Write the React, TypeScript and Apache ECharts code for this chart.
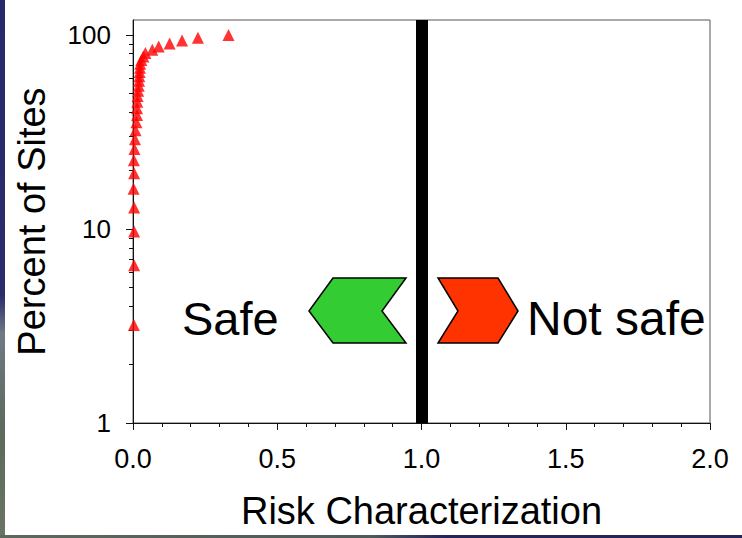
import React, { useEffect, useRef } from "react";
import * as echarts from "echarts";

// Risk characterization value for each site (sorted)
const riskValues = [
  0.003, 0.004, 0.004, 0.004, 0.002, 0.004, 0.003, 0.005, 0.007, 0.009,
  0.012, 0.014, 0.014, 0.015, 0.016, 0.018, 0.02, 0.021, 0.022, 0.023,
  0.024, 0.025, 0.029, 0.036, 0.043, 0.067, 0.089, 0.127, 0.17, 0.225, 0.331,
];
// Cumulative percent of sites
const percentOfSites = [
  3.2, 6.5, 9.7, 12.9, 16.1, 19.4, 22.6, 25.8, 29.0, 32.3,
  35.5, 38.7, 41.9, 45.2, 48.4, 51.6, 54.8, 58.1, 61.3, 64.5,
  67.7, 71.0, 74.2, 77.4, 80.6, 83.9, 87.1, 90.3, 93.5, 96.8, 100,
];
const yMajorTicks = [1, 10, 100];
const yMinorTicks = [2, 3, 4, 5, 6, 7, 8, 9, 20, 30, 40, 50, 60, 70, 80, 90];
const thresholdValue = 1.0;
const xMin = 0;
const xMax = 2;
const xInterval = 0.5;
const yMin = 1;
const yMax = 119.4;

const FONT = "'Liberation Sans', Arial, sans-serif";

export default function App() {
  const ref = useRef<HTMLDivElement>(null);
  useEffect(() => {
    if (!ref.current) return;
    const chart = echarts.init(ref.current, undefined, { renderer: "svg" });
    const points = riskValues.map((x, i) => [x, percentOfSites[i]]);
    chart.setOption({
      animation: false,
      backgroundColor: "#ffffff",
      textStyle: { fontFamily: FONT },
      grid: {
        left: 133,
        right: 32,
        top: 20,
        bottom: 115,
        show: true,
        borderColor: "#555",
        borderWidth: 1,
        backgroundColor: "transparent",
      },
      xAxis: {
        type: "value",
        min: xMin,
        max: xMax,
        interval: xInterval,
        name: "Risk Characterization",
        nameLocation: "middle",
        nameGap: 69,
        nameTextStyle: { fontSize: 38, color: "#000", fontFamily: FONT },
        axisLine: { show: true, lineStyle: { color: "#111", width: 1 } },
        axisTick: { show: true, length: 7, lineStyle: { color: "#111" } },
        minorTick: { show: true, splitNumber: 5, length: 4, lineStyle: { color: "#111" } },
        axisLabel: {
          fontSize: 27,
          color: "#000",
          margin: 22,
          fontFamily: FONT,
          formatter: (v: number) => v.toFixed(1),
        },
        splitLine: { show: false },
        minorSplitLine: { show: false },
      },
      yAxis: [
        {
          type: "log",
          logBase: 10,
          min: yMin,
          max: yMax,
          name: "Percent of Sites",
          nameLocation: "middle",
          nameGap: 82,
          nameTextStyle: { fontSize: 38, color: "#000", fontFamily: FONT },
          axisLine: { show: true, lineStyle: { color: "#111", width: 1 } },
          axisTick: { show: true, length: 7, customValues: yMajorTicks, lineStyle: { color: "#111" } },
          axisLabel: {
            fontSize: 26,
            color: "#000",
            margin: 22,
            fontFamily: FONT,
            customValues: yMajorTicks,
          },
          splitLine: { show: false },
        },
        {
          type: "log",
          logBase: 10,
          min: yMin,
          max: yMax,
          position: "left",
          axisLine: { show: false },
          axisTick: { show: true, length: 4, customValues: yMinorTicks, lineStyle: { color: "#111" } },
          axisLabel: { show: false },
          splitLine: { show: false },
        },
      ],
      series: [
        {
          type: "scatter",
          data: points,
          symbol: "triangle",
          symbolSize: 12,
          itemStyle: { color: "#ff0000" },
          z: 5,
          markLine: {
            silent: true,
            symbol: "none",
            label: { show: false },
            lineStyle: { color: "#000", width: 12, type: "solid" },
            data: [{ xAxis: thresholdValue }],
          },
        },
      ],
      graphic: [
        {
          type: "rect",
          shape: { x: 0, y: 0, width: 5, height: 538 },
          style: {
            fill: new echarts.graphic.LinearGradient(0, 0, 0, 1, [
              { offset: 0, color: "#29286a" },
              { offset: 0.55, color: "#2c2c6c" },
              { offset: 0.62, color: "#707a84" },
              { offset: 0.8, color: "#5c6a5c" },
              { offset: 1, color: "#6a7466" },
            ]),
          },
          silent: true,
        },
        {
          type: "rect",
          shape: { x: 0, y: 535, width: 742, height: 3 },
          style: {
            fill: new echarts.graphic.LinearGradient(0, 0, 1, 0, [
              { offset: 0, color: "#5c6a5c" },
              { offset: 0.5, color: "#4c5a5a" },
              { offset: 0.6, color: "#22245e" },
              { offset: 1, color: "#22245e" },
            ]),
          },
          silent: true,
        },
        {
          type: "polygon",
          shape: {
            points: [
              [309, 311], [333, 278], [406, 278], [382, 311], [406, 343], [333, 343],
            ],
          },
          style: { fill: "#33cc33", stroke: "#000", lineWidth: 1.5 },
          silent: true,
        },
        {
          type: "polygon",
          shape: {
            points: [
              [438, 278], [498, 278], [518, 311], [498, 343], [438, 343], [458, 311],
            ],
          },
          style: { fill: "#ff3300", stroke: "#000", lineWidth: 1.5 },
          silent: true,
        },
        {
          type: "text",
          x: 182,
          y: 318,
          style: {
            text: "Safe",
            fontSize: 47,
            fontFamily: FONT,
            fill: "#000",
            textAlign: "left",
            textVerticalAlign: "middle",
          },
          silent: true,
        },
        {
          type: "text",
          x: 527,
          y: 318,
          style: {
            text: "Not safe",
            fontSize: 48,
            fontFamily: FONT,
            fill: "#000",
            textAlign: "left",
            textVerticalAlign: "middle",
          },
          silent: true,
        },
      ],
    });
    return () => chart.dispose();
  }, []);
  return (
    <div
      ref={ref}
      style={{ position: "fixed", left: 0, top: 0, width: 742, height: 538 }}
    />
  );
}
